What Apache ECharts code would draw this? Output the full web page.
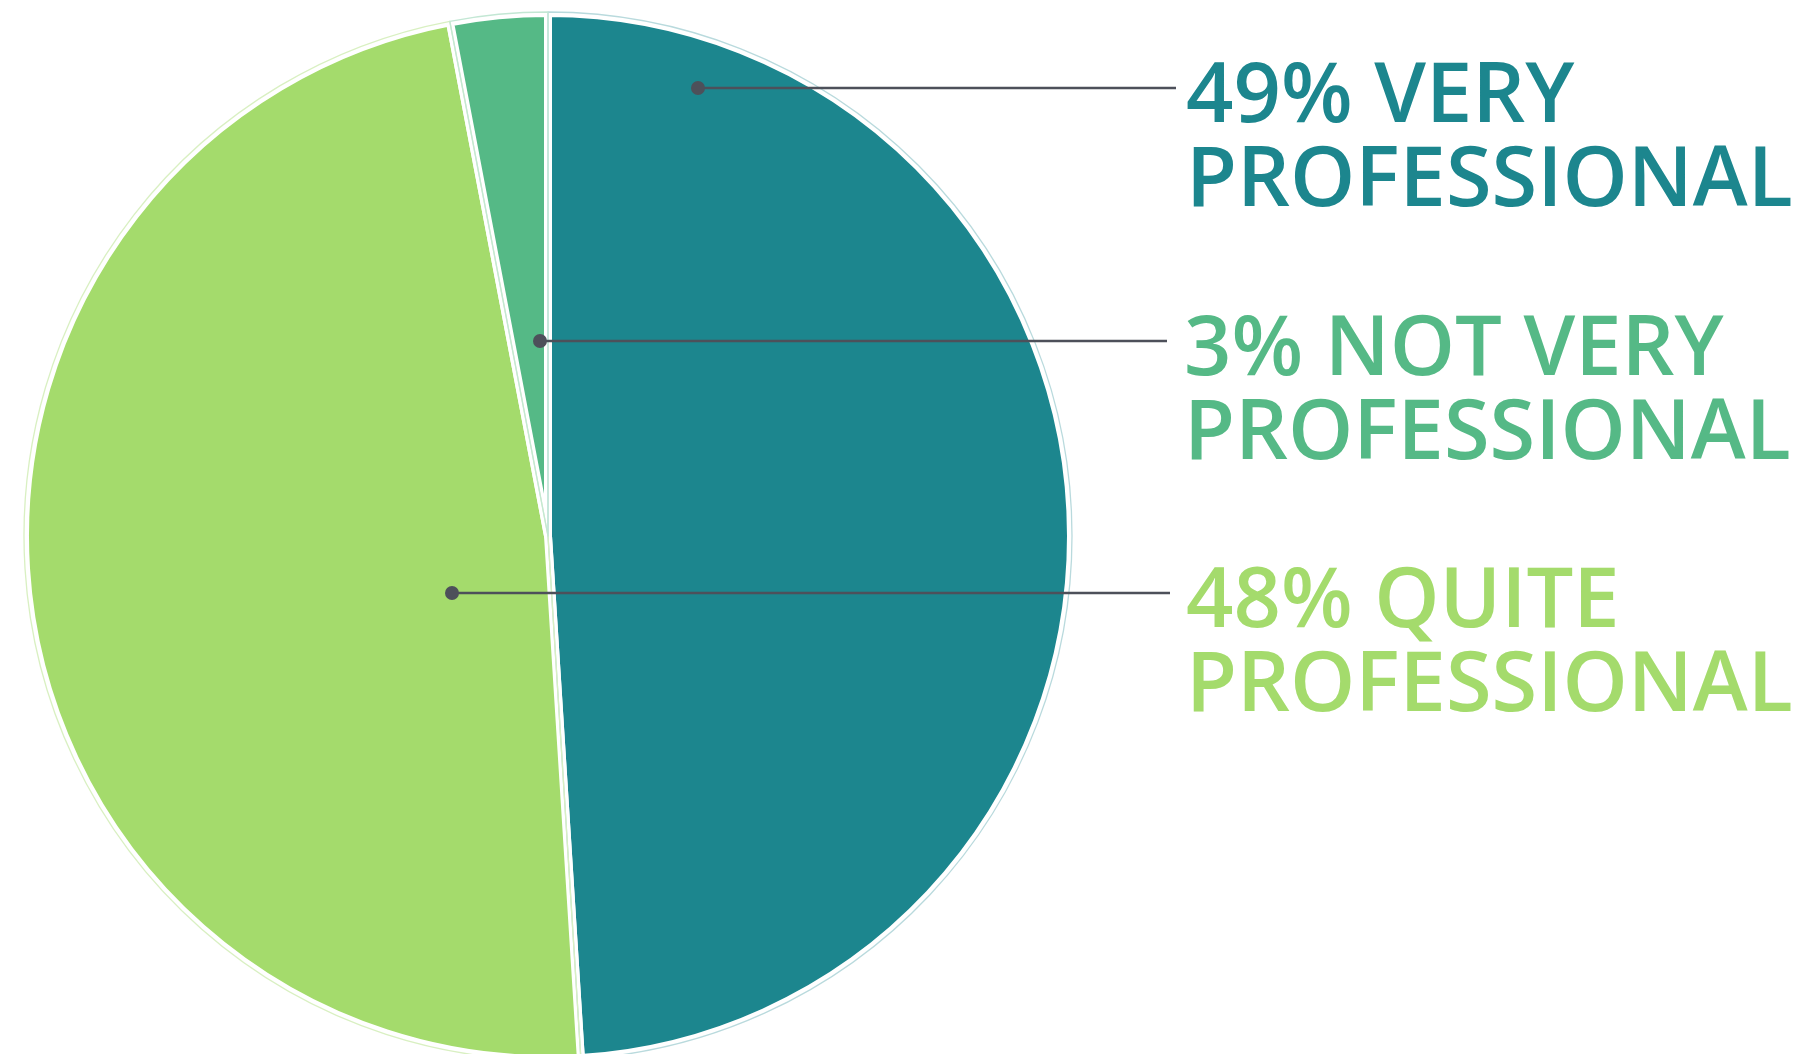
<!DOCTYPE html>
<html>
<head>
<meta charset="utf-8">
<script src="https://cdn.jsdelivr.net/npm/echarts@6/dist/echarts.min.js"></script>
<style>
  html, body { margin: 0; padding: 0; background: #fff; }
  #chart { width: 1808px; height: 1054px; }
</style>
</head>
<body>
<div id="chart"></div>
<script>
// data, clockwise from 12 o'clock
const names = ['VERY PROFESSIONAL', 'QUITE PROFESSIONAL', 'NOT VERY PROFESSIONAL']
const values = [49, 48, 3]
const colors = ['#1c868e', '#a4db6c', '#55b986']
const paleColors = ['#b9dadd', '#d9f0c2', '#c3e7d4']

// callout placement per slice (dot, horizontal line, text block)
const callouts = [
  { dotX: 698, lineY: 88, endX: 1176, textX: 1186 },
  { dotX: 452, lineY: 593, endX: 1170, textX: 1186 },
  { dotX: 540, lineY: 341, endX: 1167, textX: 1184 }
]

const center = [548, 536]
const lineColor = '#4d505a'

const dom = document.getElementById('chart')
const chart = echarts.init(dom)

const pieData = (style) => values.map((v, i) => ({ value: v, name: names[i], ...style(i) }))

chart.setOption({
  animation: false,
  series: [
    {
      // slices, white gaps between them
      type: 'pie',
      center: center,
      radius: [0, 523],
      itemStyle: { borderColor: '#fff', borderWidth: 8 },
      label: { show: false },
      labelLine: { show: false },
      data: pieData(i => ({ itemStyle: { color: colors[i] } }))
    },
    {
      // thin pale outline round each slice
      type: 'pie',
      silent: true,
      z: 3,
      center: center,
      radius: [0, 524],
      label: { show: false },
      labelLine: { show: false },
      data: pieData(i => ({ itemStyle: { color: 'rgba(0,0,0,0)', borderColor: paleColors[i], borderWidth: 1.3 } }))
    },
    {
      // callouts drawn above the slices
      type: 'pie',
      silent: true,
      z: 5,
      center: center,
      radius: [0, 515],
      itemStyle: { color: 'rgba(0,0,0,0)', borderWidth: 0 },
      label: {
        show: true,
        position: 'outside',
        overflow: 'none',
        fontFamily: 'Open Sans',
        fontWeight: 600,
        fontSize: 83,
        lineHeight: 84,
        formatter: p => p.value + '% ' + p.name.replace(' PROFESSIONAL', '\nPROFESSIONAL')
      },
      labelLine: { show: true, lineStyle: { color: lineColor, width: 2.5 } },
      labelLayout: function (params) {
        const c = callouts[params.dataIndex]
        return {
          x: c.textX,
          y: c.lineY - 32,
          align: 'left',
          verticalAlign: 'top',
          hideOverlap: false,
          labelLinePoints: [[c.dotX, c.lineY], [c.endX, c.lineY], [c.endX, c.lineY]]
        }
      },
      data: pieData(i => ({ label: { color: colors[i] } }))
    }
  ],
  graphic: callouts.map(c => ({
    type: 'circle',
    shape: { cx: c.dotX, cy: c.lineY, r: 7 },
    style: { fill: lineColor },
    z: 100
  }))
})

window.addEventListener('resize', () => chart.resize())
</script>
</body>
</html>
